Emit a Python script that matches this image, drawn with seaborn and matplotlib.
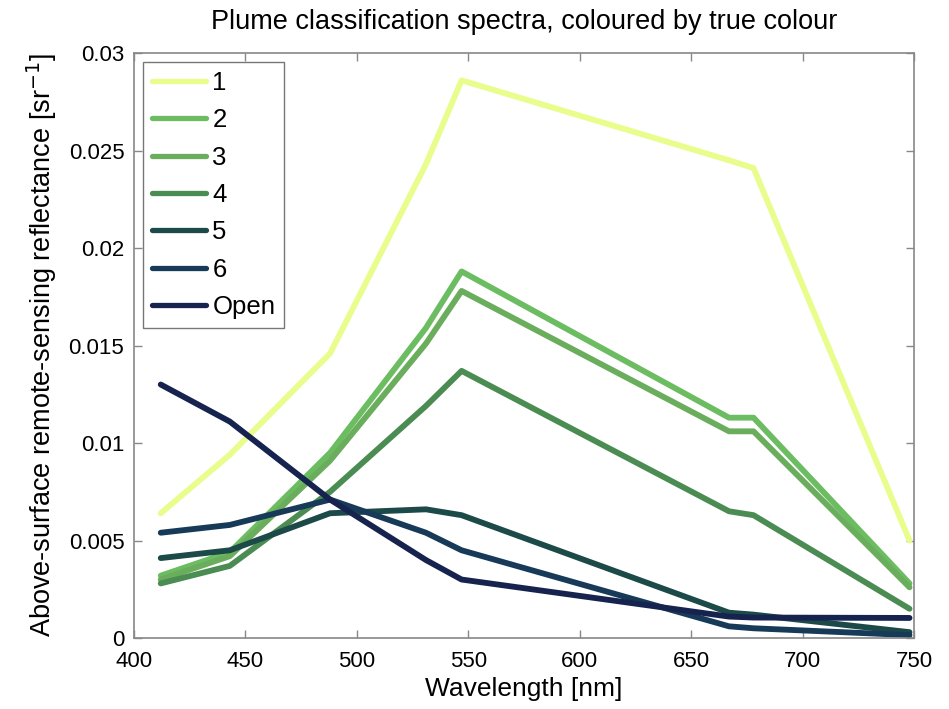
import matplotlib
matplotlib.use("Agg")
import matplotlib.pyplot as plt
import seaborn as sns
import pandas as pd

wavelengths = [412, 443, 488, 531, 547, 667, 678, 748]
classes = ["1", "2", "3", "4", "5", "6", "Open"]
s1 = [0.0064, 0.0094, 0.0146, 0.0243, 0.0286, 0.0245, 0.0241, 0.0050]
s2 = [0.0032, 0.0044, 0.0095, 0.0159, 0.0188, 0.0113, 0.0113, 0.0028]
s3 = [0.0030, 0.0042, 0.0091, 0.0151, 0.0178, 0.0106, 0.0106, 0.0026]
s4 = [0.0028, 0.0037, 0.0075, 0.0119, 0.0137, 0.0065, 0.0063, 0.0015]
s5 = [0.0041, 0.0045, 0.0064, 0.0066, 0.0063, 0.0013, 0.0012, 0.0003]
s6 = [0.0054, 0.0058, 0.0071, 0.0054, 0.0045, 0.0006, 0.0005, 0.00015]
s_open = [0.0130, 0.0111, 0.0071, 0.0040, 0.0030, 0.0011, 0.00105, 0.00103]
colours = ["#e8fd8c", "#6cbd62", "#6aad5c", "#4a8c52", "#1c4a48", "#163a58", "#16234e"]

series = [s1, s2, s3, s4, s5, s6, s_open]
rows = []
for name, vals in zip(classes, series):
    for w, v in zip(wavelengths, vals):
        rows.append({"Wavelength": w, "Rrs": v, "Class": name})
df = pd.DataFrame(rows)

sns.set_style("white")
plt.rcParams["font.family"] = ["Liberation Sans", "DejaVu Sans"]
plt.rcParams["text.color"] = "black"
plt.rcParams["axes.labelcolor"] = "black"

fig = plt.figure(figsize=(9.49, 7.09), dpi=100)
ax = fig.add_axes([0.1412, 0.1001, 0.9631 - 0.1412, 0.9252 - 0.1001])
sns.lineplot(data=df, x="Wavelength", y="Rrs", hue="Class", hue_order=classes,
             palette=dict(zip(classes, colours)), sort=False, linewidth=4.2,
             estimator=None, ax=ax)

ax.set_xlim(400, 750)
ax.set_ylim(0, 0.03)
ax.set_xticks([400, 450, 500, 550, 600, 650, 700, 750])
ax.set_yticks([0, 0.005, 0.01, 0.015, 0.02, 0.025, 0.03])
ax.set_yticklabels(["0", "0.005", "0.01", "0.015", "0.02", "0.025", "0.03"])
ax.tick_params(direction="in", length=6, width=1, colors="#888888",
               labelcolor="black", labelsize=16, top=True, right=True,
               bottom=True, left=True)
ax.tick_params(axis="x", pad=9)
ax.tick_params(axis="y", pad=7)
for sp in ax.spines.values():
    sp.set_color("#888888")
    sp.set_linewidth(1.2)

ax.set_xlabel("Wavelength [nm]", fontsize=19, labelpad=4)
ax.set_ylabel("Above-surface remote-sensing reflectance [sr$^{-1}$]", fontsize=19.5, labelpad=7)
ax.set_title("Plume classification spectra, coloured by true colour", fontsize=19.5, pad=17)

leg = ax.legend(loc="upper left", fontsize=18.5, frameon=True, fancybox=False,
                handlelength=2.1, handletextpad=0.25, labelspacing=0.52,
                borderaxespad=0.35, borderpad=0.35)
leg.get_frame().set_edgecolor("#555555")
leg.get_frame().set_linewidth(1.0)
for line in leg.get_lines():
    line.set_linewidth(3.8)

fig.savefig("out.png", dpi=100)
